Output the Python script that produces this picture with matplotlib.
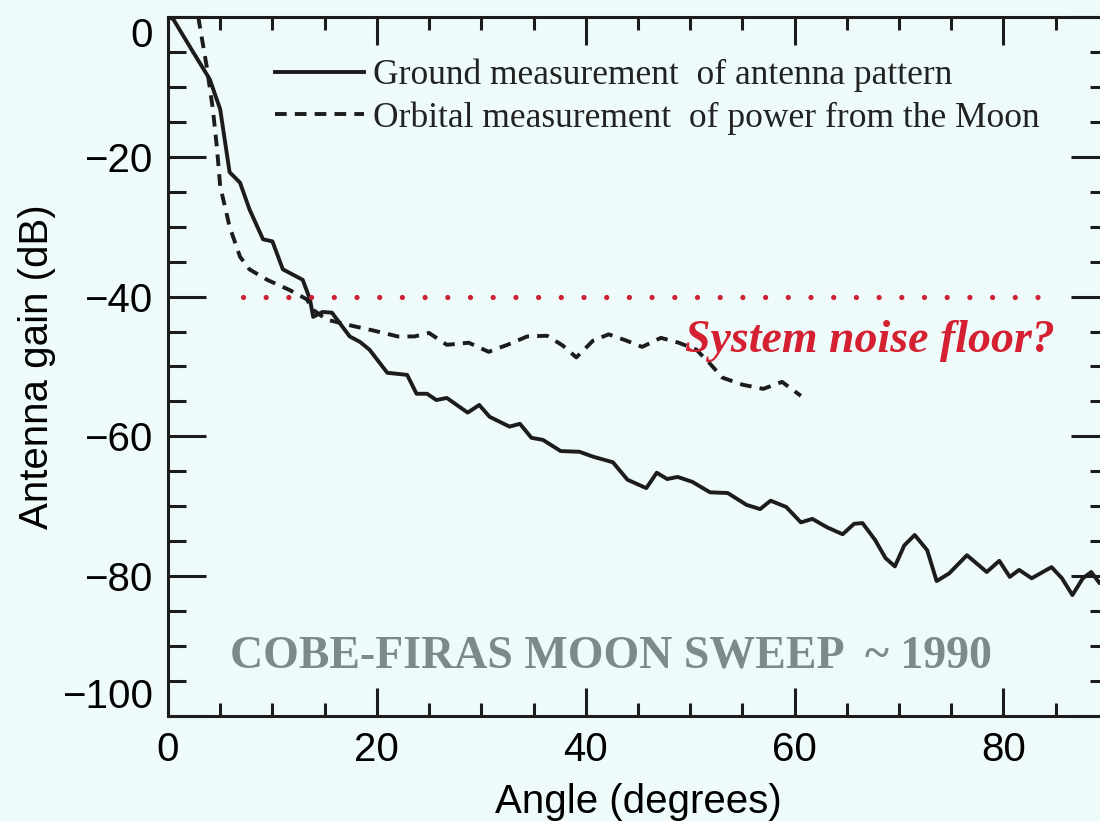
import matplotlib
matplotlib.use("Agg")
import matplotlib.pyplot as plt
from matplotlib.ticker import MultipleLocator

# ground measurement of the antenna pattern (solid)
ground_angle = [0.0, 0.5, 2.4, 4.0, 5.0, 5.9, 6.9, 7.8, 9.1, 10.0, 11.0, 12.9,
                13.6, 13.9, 14.8, 15.7, 17.4, 18.4, 19.3, 21.0, 22.9, 23.8,
                24.8, 25.7, 26.7, 28.7, 29.8, 30.8, 32.7, 33.7, 34.8, 35.9,
                37.6, 39.4, 40.7, 42.6, 44.0, 45.8, 46.8, 47.8, 48.8, 50.2,
                51.9, 53.6, 55.4, 56.7, 57.7, 59.2, 60.6, 61.7, 63.1, 64.6,
                65.7, 66.5, 67.7, 68.7, 69.6, 70.5, 71.5, 72.7, 73.6, 74.8,
                76.5, 78.4, 79.6, 80.6, 81.5, 82.7, 84.6, 85.6, 86.6, 87.6,
                88.4, 89.2, 90.0]
ground_gain = [0.0, -0.3, -5.0, -8.9, -13.2, -22.2, -23.7, -27.5, -31.8, -32.1,
               -36.1, -37.6, -40.4, -42.9, -42.2, -42.3, -45.7, -46.5, -47.6,
               -50.9, -51.2, -53.9, -53.9, -54.8, -54.5, -56.6, -55.5, -57.2,
               -58.6, -58.2, -60.2, -60.5, -62.1, -62.2, -62.9, -63.7, -66.2,
               -67.4, -65.2, -66.1, -65.8, -66.5, -68.0, -68.1, -69.8, -70.4,
               -69.2, -70.1, -72.3, -71.8, -73.0, -74.0, -72.5, -72.4, -74.8,
               -77.4, -78.6, -75.6, -74.1, -76.3, -80.7, -79.6, -77.0, -79.4,
               -77.8, -80.1, -79.1, -80.3, -78.7, -80.3, -82.7, -80.3, -79.4,
               -81.0, -80.0]

# orbital measurement of power from the Moon (dashed)
orbit_angle = [2.9, 3.7, 4.3, 4.7, 5.0, 5.9, 6.9, 7.8, 9.5, 11.7, 13.3, 13.9,
               15.2, 17.7, 19.8, 22.0, 23.6, 25.0, 26.7, 28.8, 30.7, 32.5,
               34.4, 36.3, 37.8, 39.1, 40.7, 42.2, 43.9, 45.4, 47.2, 48.9,
               50.6, 51.9, 53.1, 55.0, 57.0, 58.8, 60.6]
orbit_gain = [0.0, -7.0, -13.2, -18.9, -24.2, -30.0, -34.3, -36.1, -37.6,
              -39.1, -40.4, -41.9, -43.3, -44.2, -44.9, -45.7, -45.7, -45.2,
              -46.9, -46.6, -47.9, -46.9, -45.7, -45.6, -47.0, -48.7, -46.3,
              -45.4, -46.3, -47.2, -45.9, -46.6, -47.6, -49.6, -51.6, -52.6,
              -53.2, -52.2, -54.2]

noise_floor = -40
noise_span = [7.2, 83.6]

bg = "#EFFBFB"
ink = "#1c1c1c"

fig = plt.figure(figsize=(11, 8.21), dpi=100)
fig.patch.set_facecolor(bg)
ax = fig.add_axes([0.1527, 0.1279, 0.8545, 0.8514])
ax.set_facecolor(bg)

ax.plot(ground_angle, ground_gain, color=ink, lw=2.8,
        label="Ground measurement  of antenna pattern")
ax.plot(orbit_angle, orbit_gain, color=ink, lw=2.8, ls=(0, (3.0, 2.1)),
        label="Orbital measurement  of power from the Moon")
ax.plot(noise_span, [noise_floor, noise_floor], color="#CC2233", lw=3.8,
        ls=(0, (0.001, 4.3)), dash_capstyle="round")

ax.set_xlim(0, 90)
ax.set_ylim(-100, 0)
ax.set_xticks([0, 20, 40, 60, 80])
ax.set_yticks([-100, -80, -60, -40, -20, 0])
ax.xaxis.set_minor_locator(MultipleLocator(5))
ax.yaxis.set_minor_locator(MultipleLocator(5))

for s in ax.spines.values():
    s.set_linewidth(2.2)
    s.set_color(ink)

ax.tick_params(axis="both", which="both", direction="in", top=True,
               right=True, color=ink, width=2.2, labelsize=29)
ax.tick_params(axis="x", which="major", length=20, pad=11)
ax.tick_params(axis="x", which="minor", length=9.5)
ax.tick_params(axis="y", which="major", length=27, pad=11)
ax.tick_params(axis="y", which="minor", length=13)

for lab in ax.get_xticklabels() + ax.get_yticklabels():
    lab.set_fontfamily("Liberation Sans")
yt = ax.yaxis.get_major_ticks()
yt[0].label1.set_va("bottom")
yt[-1].label1.set_va("top")

ax.set_xlabel("Angle (degrees)", fontsize=29, family="Liberation Sans",
              labelpad=10)
ax.set_ylabel("Antenna gain (dB)", fontsize=29, family="Liberation Sans",
              labelpad=4)

ax.legend(loc="upper left", bbox_to_anchor=(0.114, 0.94), frameon=False,
          prop={"family": "Liberation Serif", "size": 25.5},
          handlelength=2.5, handletextpad=0.25, labelspacing=0.25,
          borderpad=0, borderaxespad=0, labelcolor="#222222")

ax.text(67.2, -47.9, "System noise floor?", color="#D42030", fontsize=33,
        family="Liberation Serif", weight="bold", style="italic",
        ha="center", va="baseline")
ax.text(42.4, -93.0, "COBE-FIRAS MOON SWEEP  ~ 1990", color="#7E8A8A",
        fontsize=33, family="Liberation Serif", weight="bold",
        ha="center", va="baseline")

fig.savefig("out.png", dpi=100, facecolor=bg)
